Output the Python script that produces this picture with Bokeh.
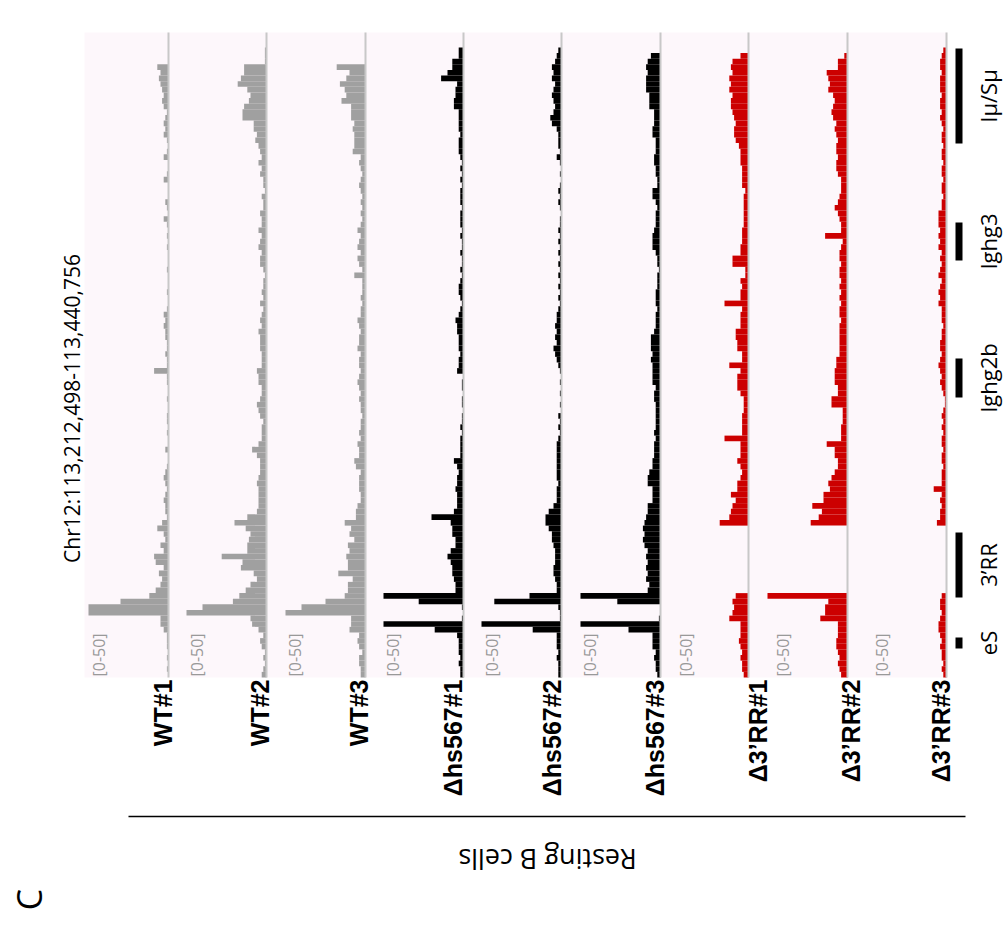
import numpy as np
import pandas as pd
from bokeh.plotting import figure
from bokeh.models import Range1d, ColumnDataSource
from bokeh.embed import file_html
from bokeh.resources import INLINE
from bokeh.core.properties import value

# ---------------- data ----------------
chr_start = 113212498
chr_end = 113440756
bin_size = 2000
region_label = "Chr12:113,212,498-113,440,756"
scale_label = "[0-50]"
data_max = 50

track_names = ["WT#1", "WT#2", "WT#3", "Δhs567#1", "Δhs567#2", "Δhs567#3",
               "Δ3’RR#1", "Δ3’RR#2", "Δ3’RR#3"]

wt1 = [0,1,0,1,0,1,1,1,3,5, 5,50,50,30,12,8,5,4,6,3, 8,9,3,5,2,3,7,4,1,2,
       2,3,2,1,2,3,2,1,0,0, 2,0,0,1,0,1,1,0,0,1, 0,0,1,1,9,1,1,2,1,1,
       2,2,3,2,3,1,0,0,1,0, 0,0,1,0,0,0,1,0,1,0, 1,3,0,1,2,0,0,0,3,1,
       0,0,3,1,0,1,3,2,3,2, 1,3,4,3,4,5,6,5,7,0, 0,0,0,0]
wt2 = [3,2,1,2,1,3,4,2,5,9, 10,50,40,21,17,13,10,6,8,16, 15,28,12,12,11,10,13,20,12,6,
       5,5,5,5,6,5,4,4,4,6, 9,5,3,3,3,2,4,5,6,4, 3,3,5,5,6,3,3,3,4,4,
       4,5,3,4,3,2,4,2,3,2, 2,1,2,4,4,3,5,4,3,5, 3,3,4,2,2,3,1,2,2,4,
       3,5,3,4,5,7,6,8,8,15, 15,14,11,10,12,18,16,14,14,1, 1,1,0,0]
wt3 = [3,3,4,4,2,4,5,4,10,9, 9,50,40,25,13,11,11,8,17,11, 11,12,10,11,7,10,9,13,6,6,
       5,3,3,4,4,4,3,6,7,4, 4,5,3,4,3,3,2,3,3,4, 3,4,5,4,3,4,4,3,5,4,
       4,3,4,5,3,3,2,3,2,2, 2,7,2,4,5,3,5,4,3,5, 3,2,3,2,3,2,3,4,3,2,
       3,4,3,8,7,7,7,8,7,9, 9,9,15,12,13,16,12,10,18,0, 0,0,0,0]
hs1 = [2,2,3,2,3,3,3,4,18,50, 1,0,1,28,50,5,5,6,7,7, 8,10,8,5,5,7,7,8,20,6,
       4,4,4,5,4,4,3,4,6,2, 2,2,2,1,2,1,1,0,1,1, 0,1,1,0,4,3,3,2,3,3,
       3,4,4,5,3,2,1,2,3,3, 2,1,2,1,1,2,1,1,2,1, 2,2,2,1,2,2,2,1,2,1,
       2,1,2,3,3,3,2,3,3,3, 3,6,6,5,5,4,14,10,7,7, 3,3,0,0]
hs2 = [2,2,2,3,2,3,3,3,18,50, 1,1,2,42,20,3,3,4,5,5, 4,4,4,5,6,6,8,10,10,8,
       5,3,3,3,2,3,3,3,3,3, 3,3,2,1,2,1,2,0,1,0, 1,0,1,0,1,2,3,4,5,3,
       4,3,4,3,3,2,1,2,1,2, 1,2,1,2,1,2,1,2,1,2, 1,1,0,1,2,1,2,1,0,1,
       0,1,3,1,2,2,2,3,6,7, 5,4,5,6,5,4,6,5,6,4, 3,2,0,0]
hs3 = [2,3,3,4,3,5,5,5,20,50, 1,0,0,27,50,8,7,9,8,9, 8,9,8,10,11,10,11,10,9,8,
       8,5,5,5,8,8,7,5,5,4, 4,4,3,4,3,3,3,3,3,4, 4,3,5,5,5,5,6,5,6,6,
       6,4,3,3,3,2,3,3,3,2, 2,2,1,2,2,3,5,5,5,4, 3,3,3,2,3,5,5,2,2,3,
       3,4,4,3,3,3,5,5,4,4, 4,7,7,7,9,9,9,8,9,8, 6,0,0,0]
rr1 = [3,4,4,5,4,5,6,5,5,5, 12,10,9,10,8,0,0,0,0,0, 0,0,0,0,0,0,0,18,12,11,
       10,8,11,7,7,5,4,5,7,5, 5,5,15,4,4,4,4,3,3,3, 5,7,7,7,5,12,4,4,7,7,
       8,8,5,5,5,4,15,5,5,4, 5,2,2,10,10,5,5,4,4,4, 3,3,3,3,3,3,2,4,4,4,
       4,5,5,5,6,8,9,9,8,9, 10,11,11,10,12,11,12,10,11,10, 5,0,0,0]
rr2 = [4,5,6,5,6,7,7,6,6,6, 17,14,14,12,50,0,0,0,0,0, 0,0,0,0,0,0,0,23,18,16,
       22,15,15,11,12,10,8,6,6,8, 8,13,4,4,4,3,3,3,10,10, 6,6,8,8,8,7,7,5,5,5,
       5,5,5,4,5,5,4,5,4,5, 4,5,5,4,5,5,4,3,14,4, 4,5,6,8,6,5,4,4,4,6,
       7,7,6,7,7,6,7,8,7,9, 10,9,8,9,12,11,12,13,6,6, 2,0,0,0]
rr3 = [2,3,2,3,3,4,3,4,5,5, 4,3,4,4,3,0,0,0,0,0, 0,0,0,0,0,0,0,6,4,4,
       3,4,3,8,3,3,3,2,3,3, 2,3,3,2,3,2,3,2,1,1, 2,3,4,3,4,5,4,3,4,4,
       3,3,2,3,3,3,5,4,5,4, 3,5,4,3,4,3,5,4,5,4, 5,5,5,3,3,2,3,3,2,3,
       3,2,3,3,2,3,3,2,3,4, 3,4,4,3,4,4,4,3,4,4, 3,2,0,0]

track_values = [wt1, wt2, wt3, hs1, hs2, hs3, rr1, rr2, rr3]

gene_names = ["eS", "3’RR", "Ighg2b", "Ighg3", "Iμ/Sμ"]
gene_starts = [113222810, 113240940, 113312050, 113360760, 113402360]
gene_ends = [113226720, 113264050, 113325920, 113374270, 113436130]

group_label = "Resting B cells"
panel_letter = "C"

# ---------------- layout helpers (page pixels -> data) ----------------
W, H = 1004, 922
PX_PER_UNIT = 1.6
BP_PER_PX = (chr_end - chr_start) / 642.0


def ux(px):
    return px / PX_PER_UNIT


def uy(py):
    return chr_start + (677 - py) * BP_PER_PX


baseline_px = [168, 266, 365, 463, 561, 660, 748, 847, 946]
scale_label_px = [98, 196, 294, 392, 491, 589, 685, 782, 881]
name_label_px = [162, 259, 358, 452, 551, 654, 757, 850, 940]
colors = ["#a0a0a0"] * 3 + ["#000000"] * 3 + ["#cc0000"] * 3

p = figure(width=W, height=H,
           x_range=Range1d(0, W / PX_PER_UNIT),
           y_range=Range1d(uy(H), uy(0)),
           x_axis_location=None, y_axis_location=None,
           toolbar_location=None, output_backend="svg",
           min_border=0, outline_line_color=None,
           background_fill_color="white", border_fill_color="white")
p.xgrid.visible = False
p.ygrid.visible = False

# track area background
p.quad(left=[ux(84)], right=[ux(947)], bottom=[uy(677)], top=[uy(32)],
       fill_color="#fdf7fb", line_color=None)

# bars
for k, vals in enumerate(track_values):
    v = np.array(vals, dtype=float)
    centers = chr_start + (np.arange(len(v)) + 0.5) * bin_size
    base = ux(baseline_px[k])
    df = pd.DataFrame({"y": centers, "left": base - np.minimum(v, data_max), "right": base})
    df = df[v > 0]
    p.hbar(y="y", height=bin_size, left="left", right="right",
           source=ColumnDataSource(df), fill_color=colors[k], line_color=None)

# baselines
p.segment(x0=[ux(b) for b in baseline_px], x1=[ux(b) for b in baseline_px],
          y0=[uy(677)] * 9, y1=[uy(32)] * 9, line_color="#c8c8c8", line_width=2)

# scale labels
p.text(x=[ux(s) for s in scale_label_px], y=[uy(676)] * 9, text=[scale_label] * 9,
       angle=np.pi / 2, text_align="left", text_baseline="middle",
       text_font=value("Open Sans"), text_font_size="16px", text_color="#999999")

# track names
p.text(x=[ux(s) for s in name_label_px], y=[uy(679)] * 9, text=track_names,
       angle=np.pi / 2, text_align="right", text_baseline="middle",
       text_font=value("Liberation Sans"), text_font_style="bold",
       text_font_size="25px", text_color="black")

# region label
p.text(x=[ux(71)], y=[uy(408)], text=[region_label], angle=np.pi / 2,
       text_align="center", text_baseline="middle",
       text_font=value("Open Sans"), text_font_size="21px", text_color="black")

# gene annotation
p.quad(left=[ux(955)] * 5, right=[ux(962)] * 5, bottom=gene_starts, top=gene_ends,
       fill_color="black", line_color=None)
p.text(x=[ux(987)] * 5, y=[(a + b) / 2 for a, b in zip(gene_starts, gene_ends)],
       text=gene_names, angle=np.pi / 2, text_align="center", text_baseline="middle",
       text_font=value("Open Sans"), text_font_size="22px", text_color="black")

# group separator & label
p.segment(x0=[ux(128)], x1=[ux(965)], y0=[uy(816)], y1=[uy(816)],
          line_color="black", line_width=1.5)
p.text(x=[ux(547)], y=[uy(859)], text=[group_label], angle=np.pi,
       text_align="center", text_baseline="middle",
       text_font=value("Open Sans"), text_font_size="27px", text_color="black")
p.text(x=[ux(28)], y=[uy(899)], text=[panel_letter], angle=np.pi / 2,
       text_align="center", text_baseline="middle",
       text_font=value("Open Sans"), text_font_size="34px", text_color="black")

open("out.html", "w").write(file_html(p, INLINE))
